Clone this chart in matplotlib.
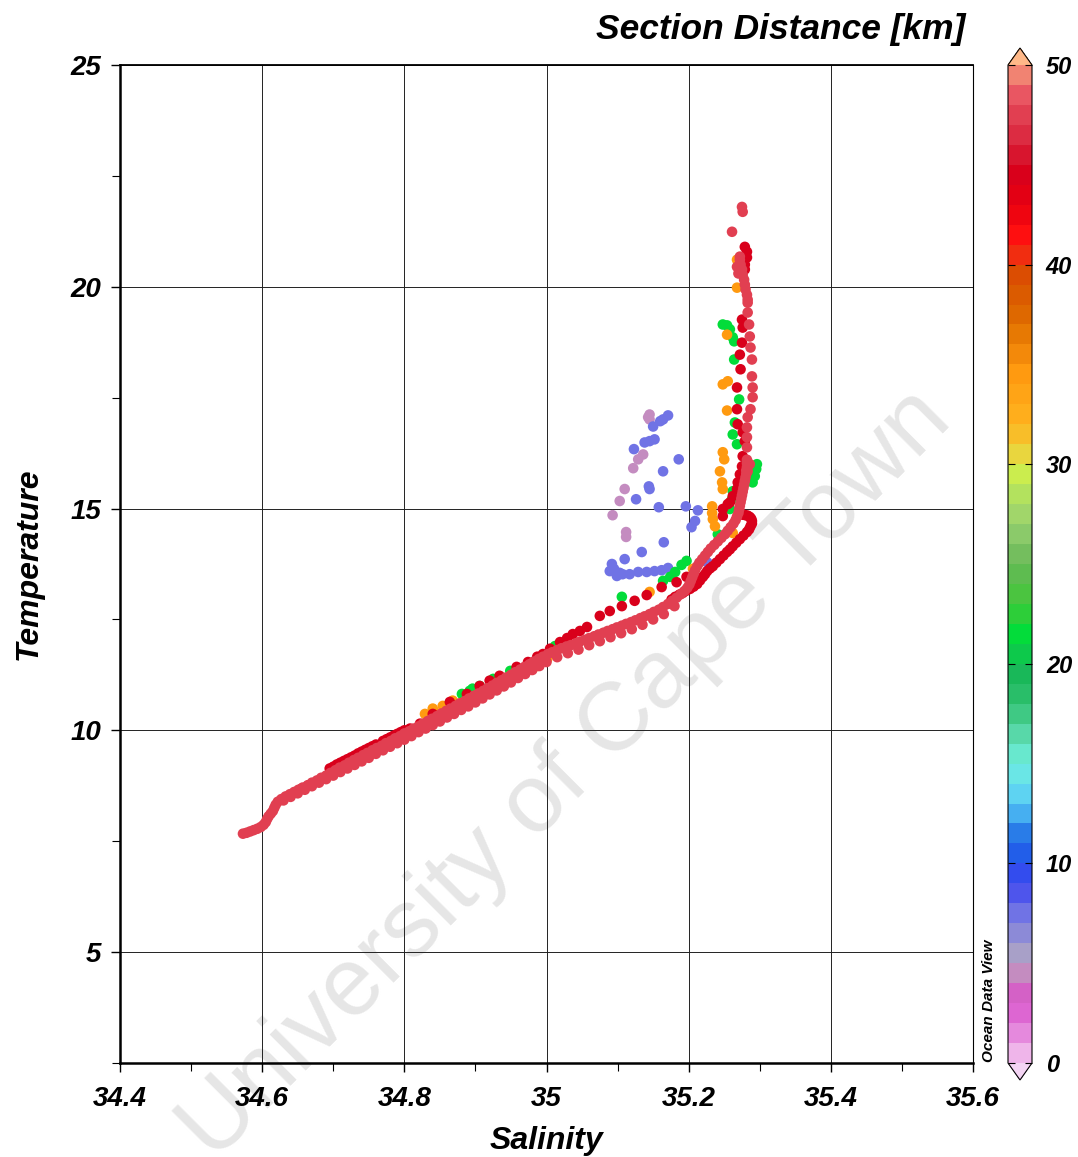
import numpy as np
import matplotlib
matplotlib.use("Agg")
import matplotlib.pyplot as plt
from matplotlib.colors import LinearSegmentedColormap, ListedColormap, Normalize
from matplotlib.ticker import MultipleLocator

plt.rcParams['font.family'] = ['Liberation Sans', 'DejaVu Sans']

# ---------------------------------------------------------------
#  data: (salinity, temperature) per station
# ---------------------------------------------------------------

# station at ~47.5 km (rose red) - main trace
st_47 = [(34.573,7.67),(34.578,7.69),(34.583,7.72),(34.588,7.75),(34.593,7.78),(34.598,7.82),
         (34.602,7.87),(34.605,7.93),(34.607,8.00),(34.609,8.06),(34.612,8.12),(34.615,8.18),
         (34.617,8.25),(34.619,8.32),(34.622,8.39),(34.627,8.45),(34.633,8.51),(34.639,8.56),
         (34.645,8.61),(34.651,8.66),(34.657,8.71),(34.664,8.76),(34.670,8.82),(34.677,8.87),
         (34.683,8.93),(34.690,8.98),(34.696,9.04),(34.703,9.10),(34.709,9.16),(34.716,9.21),
         (34.722,9.27),(34.729,9.33),(34.735,9.38),(34.742,9.44),(34.748,9.49),(34.755,9.55),
         (34.761,9.60),(34.768,9.65),(34.774,9.71),(34.781,9.76),(34.787,9.82),(34.794,9.87),
         (34.800,9.93),(34.807,9.98),(34.813,10.04),(34.820,10.09),(34.826,10.15),(34.833,10.21),
         (34.839,10.26),(34.846,10.32),(34.852,10.38),(34.859,10.44),(34.865,10.49),(34.872,10.55),
         (34.878,10.61),(34.885,10.66),(34.891,10.72),(34.898,10.78),(34.904,10.83),(34.911,10.89),
         (34.917,10.95),(34.924,11.01),(34.930,11.07),(34.937,11.13),(34.943,11.19),(34.950,11.25),
         (34.956,11.31),(34.963,11.37),(34.969,11.43),(34.976,11.49),(34.982,11.55),(34.989,11.61),
         (34.995,11.66),(35.002,11.72),(35.008,11.76),(35.015,11.81),(35.021,11.85),(35.028,11.89),
         (35.034,11.92),(35.041,11.96),(35.047,12.00),(35.054,12.04),(35.060,12.08),(35.067,12.12),
         (35.073,12.16),(35.080,12.20),(35.086,12.24),(35.093,12.28),(35.099,12.32),(35.106,12.36),
         (35.112,12.40),(35.119,12.44),(35.125,12.48),(35.132,12.53),(35.138,12.57),(35.145,12.62),
         (35.151,12.67),(35.158,12.72),(35.164,12.78),(35.171,12.85),(35.177,12.92),(35.183,12.99),
         (35.189,13.07),(35.194,13.14),(35.198,13.21),(35.201,13.29),(35.203,13.37),(35.205,13.45),
         (35.207,13.53),(35.209,13.61),(35.212,13.70),(35.215,13.78),(35.219,13.86),(35.223,13.94),
         (35.227,14.02),(35.231,14.10),(35.236,14.18),(35.241,14.26),(35.246,14.34),(35.251,14.42),
         (35.255,14.50),(35.259,14.58),(35.263,14.66),(35.266,14.74),(35.268,14.82),(35.270,14.90),
         (35.271,14.98),(35.272,15.06),(35.273,15.14),(35.274,15.22),(35.275,15.30),(35.276,15.38),
         (35.277,15.46),(35.278,15.54),(35.279,15.62),(35.280,15.70),(35.281,15.78),(35.281,15.86),
         (35.282,15.94),(35.282,16.02),(35.282,16.10),
         # lower edge of the band
         (34.630,8.42),(34.640,8.50),(34.650,8.58),(34.660,8.66),(34.670,8.74),(34.680,8.82),
         (34.690,8.90),(34.700,8.98),(34.710,9.06),(34.720,9.14),(34.730,9.22),(34.740,9.30),
         (34.750,9.38),(34.760,9.47),(34.770,9.55),(34.780,9.63),(34.790,9.71),(34.800,9.79),
         (34.810,9.87),(34.820,9.96),(34.830,10.04),(34.840,10.12),(34.850,10.20),(34.860,10.29),
         (34.870,10.37),(34.880,10.46),(34.890,10.54),(34.900,10.63),(34.910,10.72),(34.920,10.81),
         (34.930,10.90),(34.940,10.99),(34.950,11.08),(34.960,11.18),(34.970,11.27),(34.980,11.36),
         (34.990,11.45),(35.000,11.54),(35.015,11.65),(35.030,11.74),(35.045,11.82),(35.060,11.92),
         (35.075,12.01),(35.090,12.10),(35.105,12.19),(35.120,12.28),(35.135,12.38),(35.150,12.50),
         (35.165,12.62),(35.180,12.80),
         # upper part of the profile
         (35.286,16.00),(35.283,15.84),(35.282,16.38),(35.282,16.61),(35.282,16.83),(35.283,17.06),
         (35.287,17.24),(35.290,17.51),(35.290,17.73),(35.289,17.98),(35.289,18.36),(35.287,18.63),
         (35.286,18.88),(35.285,19.15),(35.283,19.42),(35.283,19.64),(35.283,19.71),(35.282,19.82),
         (35.280,19.94),(35.279,20.05),(35.278,20.16),(35.276,20.27),(35.275,20.39),(35.273,20.50),
         (35.272,20.61),(35.272,20.68),(35.268,20.45),(35.270,20.30),(35.261,21.24),(35.275,21.80),
         (35.276,21.69)]

# station at ~44.5 km (dark red)
st_44 = [(35.176,12.95),(35.181,13.01),(35.187,13.06),(35.192,13.10),(35.197,13.15),(35.202,13.19),
         (35.207,13.24),(35.212,13.30),(35.216,13.38),(35.220,13.46),(35.223,13.52),(35.226,13.59),
         (35.230,13.65),(35.234,13.70),(35.239,13.78),(35.244,13.86),(35.249,13.94),(35.254,14.02),
         (35.258,14.08),(35.262,14.15),(35.267,14.23),(35.272,14.31),(35.277,14.39),(35.282,14.47),
         (35.285,14.53),(35.287,14.60),(35.289,14.66),(35.289,14.72),(35.288,14.77),(35.286,14.81),
         (35.283,14.84),(35.280,14.85),(35.277,14.86),(35.275,14.87),
         (35.075,12.58),(35.089,12.69),(35.106,12.80),(35.124,12.92),(35.141,13.05),(35.162,13.23),
         (35.183,13.34),(35.197,13.46),(35.057,12.33),(35.047,12.24),(35.037,12.17),(35.029,12.08),
         (35.019,11.99),(35.005,11.84),(34.995,11.72),(34.987,11.66),(34.974,11.54),(34.958,11.43),
         (34.934,11.23),(34.920,11.12),(34.906,11.00),(34.888,10.82),(34.864,10.64),(34.840,10.37),
         (34.822,10.15),(34.808,10.04),
         (34.655,8.68),(34.665,8.76),(34.695,9.14),(34.700,9.18),(34.705,9.23),(34.710,9.27),
         (34.715,9.31),(34.720,9.35),(34.725,9.39),(34.730,9.43),(34.735,9.48),(34.740,9.52),
         (34.745,9.56),(34.750,9.60),(34.755,9.64),(34.760,9.68),(34.770,9.76),(34.775,9.80),
         (34.780,9.84),(34.785,9.88),(34.790,9.92),(34.795,9.96),(34.800,10.00),
         (35.279,20.90),(35.282,20.79),(35.282,20.66),(35.279,20.50),(35.279,20.39),(35.275,19.26),
         (35.276,19.08),(35.275,18.74),(35.272,18.47),(35.273,18.14),(35.268,17.73),(35.268,17.24),
         (35.269,16.90),(35.276,16.72),(35.279,16.52),(35.276,16.18),(35.275,15.95),(35.272,15.77),
         (35.269,15.59),(35.268,15.44),(35.262,15.28),(35.258,15.14),(35.248,14.99),(35.248,14.83),
         (35.255,15.10)]

# station at ~21.5 km (green)
st_21 = [(35.248,19.15),(35.254,19.13),(35.258,19.04),(35.262,18.86),(35.264,18.77),(35.264,18.36),
         (35.271,17.46),(35.265,16.94),(35.262,16.67),(35.268,16.45),(35.296,16.00),(35.295,15.89),
         (35.293,15.73),(35.290,15.59),(35.262,15.39),(35.261,15.21),(35.258,14.99),(35.241,14.42),
         (35.197,13.82),(35.190,13.73),(35.181,13.57),(35.174,13.46),(35.164,13.37),(35.106,13.01),
         (35.012,11.90),(34.949,11.34),(34.925,11.16),(34.906,11.00),(34.892,10.89),(34.881,10.82),
         (34.896,10.94)]

# station at ~34.5 km (orange)
st_34 = [(35.268,20.61),(35.268,19.98),(35.254,18.92),(35.248,17.80),(35.255,17.87),(35.254,17.21),
         (35.248,16.27),(35.250,16.11),(35.244,15.84),(35.247,15.59),(35.248,15.44),(35.233,15.05),
         (35.233,14.90),(35.234,14.76),(35.237,14.60),(35.262,14.45),(35.206,13.64),(35.145,13.12),
         (34.829,10.37),(34.840,10.49),(34.854,10.55),(34.868,10.67),(34.972,11.34),(34.987,11.45),
         (35.001,11.61)]

# station at ~7.5 km (blue)
st_7 = [(35.171,17.10),(35.164,17.01),(35.160,16.97),(35.150,16.85),(35.152,16.56),(35.145,16.52),
        (35.138,16.49),(35.123,16.34),(35.186,16.11),(35.164,15.84),(35.144,15.50),(35.145,15.44),
        (35.126,15.21),(35.158,15.03),(35.196,15.05),(35.213,14.96),(35.209,14.72),(35.204,14.58),
        (35.165,14.24),(35.134,14.02),(35.110,13.86),(35.092,13.75),(35.089,13.59),(35.099,13.48),
        (35.107,13.52),(35.117,13.52),(35.129,13.57),(35.141,13.57),(35.152,13.59),(35.162,13.61),
        (35.171,13.66),(35.226,13.79),(35.095,13.64),(35.103,13.55)]

# station at ~4.5 km (mauve)
st_4 = [(35.145,17.12),(35.143,17.06),(35.145,17.01),(35.136,16.22),(35.129,16.11),(35.122,15.91),
        (35.110,15.44),(35.103,15.17),(35.093,14.85),(35.112,14.47),(35.112,14.36)]

stations = [(4.5, st_4), (7.5, st_7), (21.5, st_21), (34.5, st_34), (44.5, st_44), (47.5, st_47)]

sal_ticks = [34.4, 34.6, 34.8, 35.0, 35.2, 35.4, 35.6]
sal_labels = ['34.4', '34.6', '34.8', '35', '35.2', '35.4', '35.6']
temp_ticks = [5, 10, 15, 20, 25]
dist_ticks = [0, 10, 20, 30, 40, 50]

# ---------------------------------------------------------------
#  ODV style colour palette (banded)
# ---------------------------------------------------------------
anchors = [(0, '#f4c8f0'), (1, '#e898e0'), (2, '#e070d8'), (3, '#d855c8'), (4.5, '#c48cc0'),
           (5.5, '#a8a0c8'), (7.5, '#6f72e6'), (9, '#3a44f0'), (10.5, '#2060e8'), (12, '#3090e8'),
           (13, '#58c8f8'), (15, '#70f0e0'), (16.5, '#58d8a8'), (18, '#30c070'), (19.5, '#18b858'),
           (21.5, '#00dd3a'), (23, '#40c838'), (25, '#68b858'), (27, '#98d070'), (29.5, '#c8f050'),
           (30.5, '#e8d840'), (32, '#ffb420'), (34.5, '#ff9a10'), (37, '#e07000'), (39.5, '#d85000'),
           (40.5, '#f03010'), (41.5, '#ff1010'), (43, '#e80010'), (44.5, '#d9001b'), (46, '#d82038'),
           (47.5, '#e03c4e'), (48.5, '#e85060'), (49.5, '#f08070'), (50, '#f49078')]
base = LinearSegmentedColormap.from_list('odv', [(a / 50.0, c) for a, c in anchors])
cmap = ListedColormap(base((np.arange(50) + 0.5) / 50.0))
cmap.set_over('#ffb888')
cmap.set_under('#f4d4f4')
norm = Normalize(0, 50)

W, H = 1078, 1157
fig = plt.figure(figsize=(W / 100, H / 100), dpi=100)
ax = fig.add_axes([120 / W, 1 - 1063 / H, 853 / W, 998 / H])

for dist, pts in stations:
    pts = np.array(pts)
    ax.scatter(pts[:, 0], pts[:, 1], c=np.full(len(pts), dist), cmap=cmap, norm=norm,
               s=58, linewidths=0, zorder=3)

ax.set_xlim(34.4, 35.6)
ax.set_ylim(2.5, 25)
ax.set_xticks(sal_ticks)
ax.set_xticklabels(sal_labels)
ax.set_yticks(temp_ticks)
ax.xaxis.set_minor_locator(MultipleLocator(0.1))
ax.yaxis.set_minor_locator(MultipleLocator(2.5))
ax.grid(True, which='major', color='#222222', linewidth=0.7)
ax.set_axisbelow(True)

for lbl in ax.get_xticklabels() + ax.get_yticklabels():
    lbl.set_fontsize(20)
    lbl.set_fontweight('bold')
    lbl.set_fontstyle('italic')
ax.tick_params(which='major', direction='out', length=6.5, width=1.0, pad=7)
ax.tick_params(axis='x', which='major', pad=10)
ax.tick_params(which='minor', direction='out', length=5.5, width=0.8)
ax.spines['left'].set_linewidth(1.8)
ax.spines['bottom'].set_linewidth(1.8)
ax.spines['top'].set_linewidth(1.3)
ax.spines['right'].set_linewidth(0.8)

ax.set_xlabel('Salinity', fontsize=23, fontweight='bold', fontstyle='italic', labelpad=10)
ax.set_ylabel('Temperature', fontsize=23, fontweight='bold', fontstyle='italic', labelpad=19)

# watermark (behind grid, ticks and data)
ax.text(566 / W, 1 - 775 / H, 'University of Cape Town', transform=fig.transFigure,
        fontsize=70, color='#e6e6e6', rotation=45, rotation_mode='anchor',
        ha='center', va='center', zorder=0.3, clip_on=False)

fig.text(965 / W, 1 - 29 / H, 'Section Distance [km]', ha='right', va='center',
         fontsize=25.5, fontweight='bold', fontstyle='italic')

# colour bar
cax = fig.add_axes([1008 / W, 1 - 1080 / H, 24 / W, 1032 / H])
sm = plt.cm.ScalarMappable(cmap=cmap, norm=norm)
cb = fig.colorbar(sm, cax=cax, extend='both', extendfrac=0.017, ticks=dist_ticks)
cb.outline.set_linewidth(0.8)
cax.yaxis.set_ticks_position('both')
cax.tick_params(direction='in', length=5, width=0.8, labelleft=False, labelright=True, pad=10)
for lbl in cax.get_yticklabels():
    lbl.set_fontsize(17)
    lbl.set_fontweight('bold')
    lbl.set_fontstyle('italic')

fig.text(989 / W, 1 - 1062 / H, 'Ocean Data View', rotation=90, ha='center', va='bottom',
         fontsize=11, fontweight='bold', fontstyle='italic')

fig.savefig('out.png', dpi=100)
